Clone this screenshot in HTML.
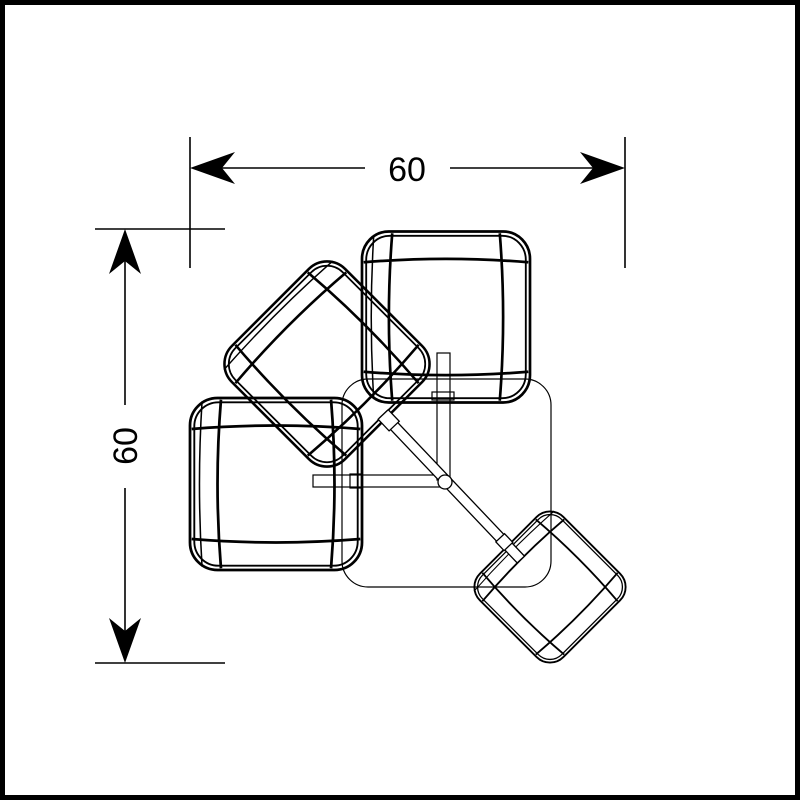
<!DOCTYPE html>
<html><head><style>html,body{margin:0;padding:0;background:#fff}</style></head><body>
<svg width="800" height="800" viewBox="0 0 800 800" xmlns="http://www.w3.org/2000/svg">
<defs>
<g id="cush" fill="none" stroke="#000">
  <rect x="-50" y="-50" width="100" height="100" rx="16" stroke-width="1.6"/>
  <rect x="-47.5" y="-47.5" width="95" height="95" rx="14" stroke-width="1.1"/>
  <path d="M-32,-49 Q-36,0 -32,49 M32,-49 Q36,0 32,49 M-49,-32 Q0,-36 49,-32 M-49,32 Q0,36 49,32" stroke-width="1.6"/>
  <path d="M-43,-48 Q-46,0 -43,48" stroke-width="0.9"/>
</g>
</defs>
<rect x="2.5" y="2.5" width="795" height="795" fill="none" stroke="#000" stroke-width="5"/>
<g stroke="#000" stroke-width="1.6" fill="none">
  <line x1="190" y1="137" x2="190" y2="268"/>
  <line x1="625" y1="137" x2="625" y2="268"/>
  <line x1="200" y1="168" x2="365" y2="168"/>
  <line x1="450" y1="168" x2="615" y2="168"/>
  <line x1="95" y1="229" x2="225" y2="229"/>
  <line x1="95" y1="663" x2="225" y2="663"/>
  <line x1="125" y1="240" x2="125" y2="405"/>
  <line x1="125" y1="488" x2="125" y2="655"/>
</g>
<g fill="#000">
  <path d="M190,168 L235,152 L222,168 L235,184 Z"/>
  <path d="M625,168 L580,152 L593,168 L580,184 Z"/>
  <path d="M125,229 L109,274 L125,261 L141,274 Z"/>
  <path d="M125,663 L109,618 L125,631 L141,618 Z"/>
</g>
<text x="407" y="181" font-family="Liberation Sans, sans-serif" font-size="34" text-anchor="middle">60</text>
<text transform="translate(137,446) rotate(-90)" font-family="Liberation Sans, sans-serif" font-size="34" text-anchor="middle">60</text>

<g fill="none" stroke="#000" stroke-width="1.2">
  <rect x="342" y="379" width="209" height="208" rx="26"/>
  <rect x="437" y="353" width="13" height="127"/>
  <rect x="313" y="475" width="127" height="12"/>
  <rect x="432" y="392" width="22" height="8"/>
  <rect x="350" y="474" width="12" height="14"/>
</g>
<g transform="translate(446,317) scale(1.68,1.71)"><use href="#cush"/></g>
<g transform="translate(276,484) scale(1.72,1.72)"><use href="#cush"/></g>
<g transform="translate(327,364) rotate(45) scale(1.6)"><use href="#cush"/></g>
<g transform="translate(550,587) rotate(45) scale(1.18)"><use href="#cush"/></g>
<g fill="#fff" stroke="#000" stroke-width="1.3">
  <g transform="translate(452,487) rotate(46.5)">
    <rect x="-100" y="-5" width="200" height="10"/>
    <rect x="-100" y="-7" width="16" height="14"/>
    <rect x="70" y="-6" width="12" height="12"/>
  </g>
  <circle cx="445" cy="482" r="7"/>
</g>
</svg>
</body></html>
